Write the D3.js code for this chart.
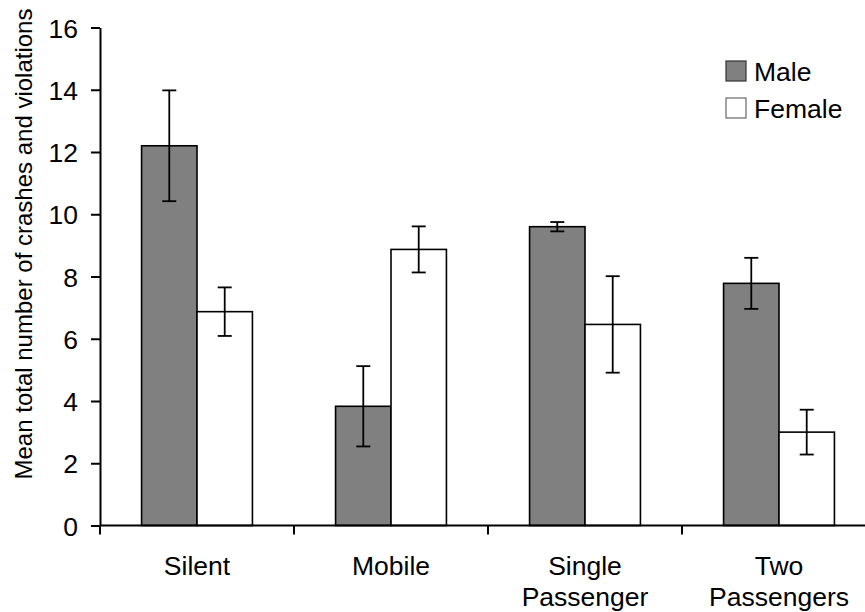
<!DOCTYPE html>
<html>
<head>
<meta charset="utf-8">
<script src="https://cdn.jsdelivr.net/npm/d3@7"></script>
<style>
    body { margin: 0; background: #fff; }
    svg { display: block; font-family: "Liberation Sans", Arial, sans-serif; }
</style>
</head>
<body>
<div id="chart"></div>
<script>
// data
const categories = ["Silent", "Mobile", "Single Passenger", "Two Passengers"];
const groups = ["Male", "Female"];
const maleMeans = [12.2, 3.83, 9.6, 7.78];
const maleErrors = [1.78, 1.29, 0.15, 0.82];
const femaleMeans = [6.87, 8.87, 6.46, 3.0];
const femaleErrors = [0.78, 0.74, 1.55, 0.72];
const yTicks = [0, 2, 4, 6, 8, 10, 12, 14, 16];

const width = 865;
const height = 612;
const fontSize = 26.5;

const rows = [];
categories.forEach((c, i) => {
    rows.push({ category: c, group: "Male", mean: maleMeans[i], err: maleErrors[i] });
    rows.push({ category: c, group: "Female", mean: femaleMeans[i], err: femaleErrors[i] });
});

const svg = d3.select("#chart")
    .append("svg")
    .attr("width", width)
    .attr("height", height);

// scales
const xScale = d3.scaleBand()
    .domain(categories)
    .range([100, 876]);

const xSub = d3.scaleBand()
    .domain(groups)
    .range([0, xScale.bandwidth()])
    .paddingOuter(0.75);

const yScale = d3.scaleLinear()
    .domain([0, 16])
    .range([525.5, 27.5]);

const fills = { Male: "#808080", Female: "#ffffff" };

// bars
svg.append("g")
    .selectAll("rect")
    .data(rows)
    .enter()
    .append("rect")
    .attr("x", d => xScale(d.category) + xSub(d.group))
    .attr("y", d => yScale(d.mean))
    .attr("width", xSub.bandwidth())
    .attr("height", d => yScale(0) - yScale(d.mean))
    .attr("fill", d => fills[d.group])
    .attr("stroke", "#000")
    .attr("stroke-width", 1.6);

// error bars
const errG = svg.append("g")
    .attr("stroke", "#000")
    .attr("stroke-width", 1.8);

const cx = d => xScale(d.category) + xSub(d.group) + xSub.bandwidth() / 2;
const capW = 7;

errG.selectAll(".stem")
    .data(rows)
    .enter()
    .append("line")
    .attr("class", "stem")
    .attr("x1", cx).attr("x2", cx)
    .attr("y1", d => yScale(d.mean + d.err))
    .attr("y2", d => yScale(d.mean - d.err));

errG.selectAll(".capTop")
    .data(rows)
    .enter()
    .append("line")
    .attr("class", "capTop")
    .attr("x1", d => cx(d) - capW).attr("x2", d => cx(d) + capW)
    .attr("y1", d => yScale(d.mean + d.err))
    .attr("y2", d => yScale(d.mean + d.err));

errG.selectAll(".capBot")
    .data(rows)
    .enter()
    .append("line")
    .attr("class", "capBot")
    .attr("x1", d => cx(d) - capW).attr("x2", d => cx(d) + capW)
    .attr("y1", d => yScale(d.mean - d.err))
    .attr("y2", d => yScale(d.mean - d.err));

// y axis
const yAxis = svg.append("g")
    .attr("transform", "translate(100,0)")
    .call(d3.axisLeft(yScale).tickValues(yTicks).tickSize(9).tickPadding(13).tickSizeOuter(0));

yAxis.select(".domain").attr("stroke", "#000").attr("stroke-width", 2);
yAxis.selectAll(".tick line").attr("stroke", "#000").attr("stroke-width", 2);
yAxis.selectAll(".tick text")
    .attr("font-size", fontSize)
    .attr("font-family", "Liberation Sans, Arial, sans-serif")
    .attr("fill", "#000")
    .attr("dy", "0.36em");

// x axis: line plus boundary ticks between categories
const xg = svg.append("g");
xg.append("line")
    .attr("x1", 100).attr("x2", xScale.range()[1])
    .attr("y1", yScale(0)).attr("y2", yScale(0))
    .attr("stroke", "#000").attr("stroke-width", 2);

xg.selectAll(".xtick")
    .data(categories)
    .enter()
    .append("line")
    .attr("class", "xtick")
    .attr("x1", d => xScale(d)).attr("x2", d => xScale(d))
    .attr("y1", yScale(0)).attr("y2", yScale(0) + 9)
    .attr("stroke", "#000").attr("stroke-width", 2);

const xLabels = xg.selectAll(".xlabel")
    .data(categories)
    .enter()
    .append("text")
    .attr("class", "xlabel")
    .attr("text-anchor", "middle")
    .attr("font-size", fontSize)
    .attr("fill", "#000");

xLabels.each(function (d) {
    const words = d.split(" ");
    const t = d3.select(this);
    words.forEach((w, i) => {
        t.append("tspan")
            .attr("x", xScale(d) + xScale.bandwidth() / 2)
            .attr("y", 575 + i * 31)
            .text(w);
    });
});

// y axis title
svg.append("text")
    .attr("transform", "translate(32,244) rotate(-90)")
    .attr("text-anchor", "middle")
    .attr("font-size", 24)
    .attr("fill", "#000")
    .text("Mean total number of crashes and violations");

// legend
const legend = svg.append("g")
    .attr("transform", "translate(726,61)");

const li = legend.selectAll("g")
    .data(groups)
    .enter()
    .append("g")
    .attr("transform", (d, i) => "translate(0," + i * 37 + ")");

li.append("rect")
    .attr("width", 20)
    .attr("height", 20)
    .attr("fill", d => fills[d])
    .attr("stroke", d => d === "Male" ? "#333" : "#666")
    .attr("stroke-width", 1.2);

li.append("text")
    .attr("x", 28)
    .attr("y", 20)
    .attr("font-size", fontSize)
    .attr("fill", "#000")
    .text(d => d);
</script>
</body>
</html>
